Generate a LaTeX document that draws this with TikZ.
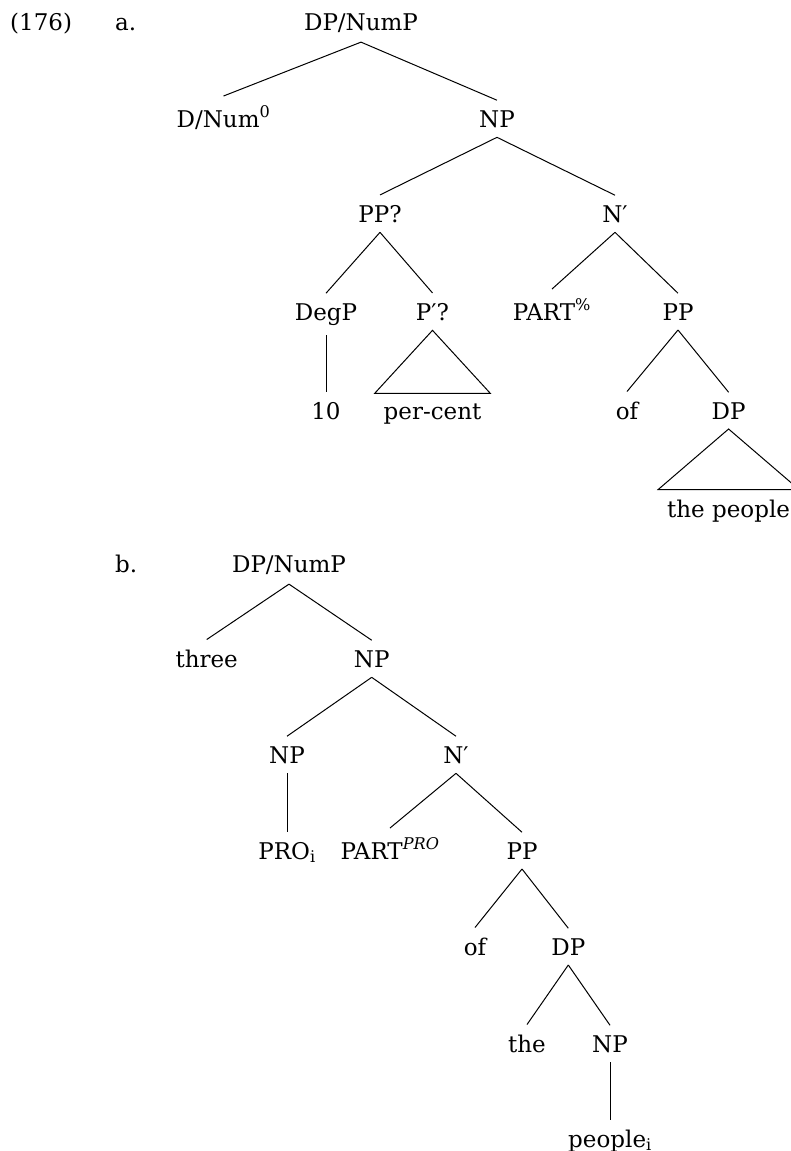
\documentclass[tikz,border=0pt]{standalone}
\usepackage{fontspec}
\setmainfont{DejaVu Serif}
\tikzset{
  lab/.style={anchor=base, inner xsep=2pt, inner ysep=10pt, outer sep=0pt},
  leafwide/.style={lab, inner xsep=9pt},
  br/.style={line width=1pt},
}
\begin{document}
\begin{tikzpicture}[x=1pt,y=-1pt]
\fontsize{23}{27}\selectfont
\useasboundingbox (0,0) rectangle (790,1151);
% example labels
\node[anchor=base west, inner sep=0pt] (exnum) at (10,30) {(176)};
\node[anchor=base west, inner sep=0pt] (exa) at (115,30) {a.};
\node[anchor=base west, inner sep=0pt] (exb) at (115,572) {b.};
% tree a
\node[lab] (ra) at (361,30) {DP/NumP};
\node[lab] (a1) at (223.5,127) {D/Num\textsuperscript{0}};
\node[lab] (a2) at (497,127) {NP};
\node[lab] (a3) at (380,222) {PP?};
\node[lab] (a4) at (615,222) {N′};
\node[lab] (a5) at (326,320) {DegP};
\node[lab] (a6) at (432.5,320) {P′?};
\node[lab] (a7) at (552,320) {PART\textsuperscript{\%}};
\node[lab] (a8) at (678,320) {PP};
\node[lab] (a9) at (326,419) {10};
\node[leafwide] (a10) at (432.5,419) {per-cent};
\node[lab] (a11) at (627,419) {of};
\node[lab] (a12) at (728.6,419) {DP};
\node[leafwide] (a13) at (728.6,517) {the people};
\draw[br] (ra.south) -- (a1.north);
\draw[br] (ra.south) -- (a2.north);
\draw[br] (a2.south) -- (a3.north);
\draw[br] (a2.south) -- (a4.north);
\draw[br] (a3.south) -- (a5.north);
\draw[br] (a3.south) -- (a6.north);
\draw[br] (a4.south) -- (a7.north);
\draw[br] (a4.south) -- (a8.north);
\draw[br] (a5.south) -- (a9.north);
\draw[br] (a6.south) -- (a10.north west) -- (a10.north east) -- cycle;
\draw[br] (a8.south) -- (a11.north);
\draw[br] (a8.south) -- (a12.north);
\draw[br] (a12.south) -- (a13.north west) -- (a13.north east) -- cycle;
% tree b
\node[lab] (rb) at (289,572) {DP/NumP};
\node[lab] (b1) at (206.7,667) {three};
\node[lab] (b2) at (371.7,667) {NP};
\node[lab] (b3) at (287,763) {NP};
\node[lab] (b4) at (456,763) {N′};
\node[lab] (b5) at (287,859) {PRO\textsubscript{i}};
\node[lab] (b6) at (390,859) {PART\textsuperscript{\textit{PRO}}};
\node[lab] (b7) at (522,859) {PP};
\node[lab] (b8) at (475,955) {of};
\node[lab] (b9) at (568.3,955) {DP};
\node[lab] (b10) at (527,1052) {the};
\node[lab] (b11) at (610,1052) {NP};
\node[lab] (b12) at (610,1147) {people\textsubscript{i}};
\draw[br] (rb.south) -- (b1.north);
\draw[br] (rb.south) -- (b2.north);
\draw[br] (b2.south) -- (b3.north);
\draw[br] (b2.south) -- (b4.north);
\draw[br] (b3.south) -- (b5.north);
\draw[br] (b4.south) -- (b6.north);
\draw[br] (b4.south) -- (b7.north);
\draw[br] (b7.south) -- (b8.north);
\draw[br] (b7.south) -- (b9.north);
\draw[br] (b9.south) -- (b10.north);
\draw[br] (b9.south) -- (b11.north);
\draw[br] (b11.south) -- (b12.north);
\end{tikzpicture}
\end{document}
